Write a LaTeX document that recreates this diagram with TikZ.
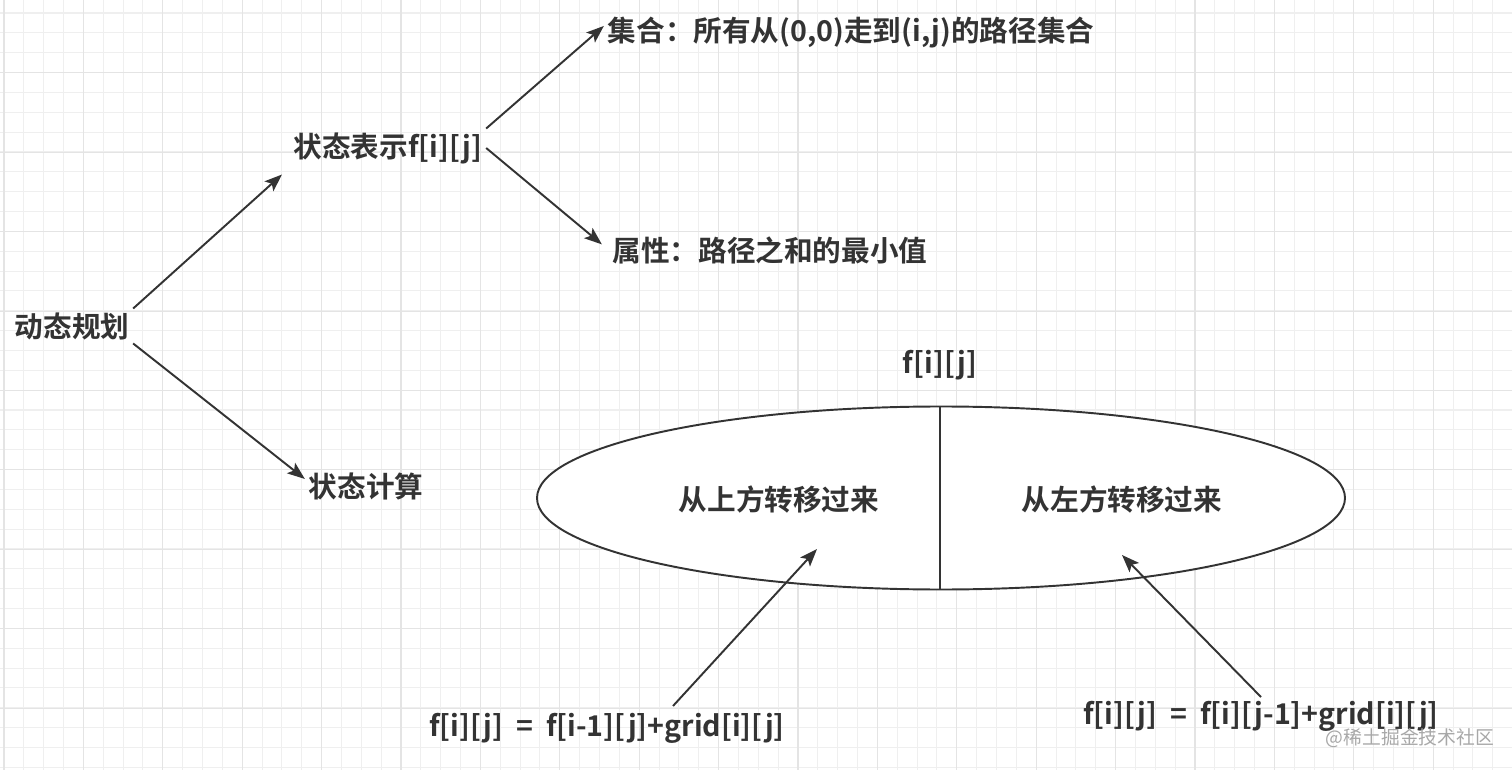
\documentclass[tikz,border=0pt]{standalone}
\usepackage{fontspec}
\setmainfont{Noto Sans CJK SC}[BoldFont={Noto Sans CJK SC Bold}]
\usetikzlibrary{arrows.meta}
\definecolor{ink}{HTML}{333333}
\definecolor{gridminor}{HTML}{EFEFEF}
\definecolor{gridmajor}{HTML}{E4E4E4}
\definecolor{markgray}{HTML}{A8A8A8}

\begin{document}
\begin{tikzpicture}[x=0.02cm, y=-0.02cm,
		>={Stealth[length=10pt, width=7.5pt, inset=2.2pt]},
		txt/.style={text=ink, inner sep=2pt, font=\bfseries\fontsize{16.3}{20}\selectfont},
		arr/.style={->, draw=ink, line width=1.1pt}]
	\useasboundingbox (0,0) rectangle (1512,770);
	\fill[white] (0,0) rectangle (1512,770);
	
	% Hintergrundraster
	\foreach \i in {0,...,76}
	\draw[gridminor, line width=0.6pt] ({4+19.85*\i},0) -- ({4+19.85*\i},770);
	\foreach \i in {0,...,38}
	\draw[gridminor, line width=0.6pt] (0,{13+19.85*\i}) -- (1512,{13+19.85*\i});
	\foreach \i in {0,...,19}
	\draw[gridmajor, line width=0.6pt] ({4+79.4*\i},0) -- ({4+79.4*\i},770);
	\foreach \i in {0,...,9}
	\draw[gridmajor, line width=0.6pt] (0,{-6.5+79.4*\i}) -- (1512,{-6.5+79.4*\i});
	
	% Baum links
	\node[txt] (dp) at (72,326) {动态规划};
	\node[txt] (st) at (388,148) {状态表示f[i][j]};
	\node[txt] (sc) at (366,486) {状态计算};
	\node[txt] (jh) at (851,33) {集合：所有从(0,0)走到(i,j)的路径集合};
	\node[txt] (sx) at (770,250) {属性：路径之和的最小值};
	
	\draw[arr, shorten >=6pt] (dp.north east) -- (st.south west);
	\draw[arr] (dp.south east) -- ([yshift=4pt]sc.west);
	\draw[arr] (st.north east) -- ([yshift=4pt]jh.west);
	\draw[arr, shorten >=5pt] (st.east) -- (sx.west);
	
	% Ellipse fuer f[i][j]
	\node[txt] (fij) at (940,365) {f[i][j]};
	\draw[ink, fill=white, line width=1.1pt] (941,498) ellipse [x radius=404, y radius=91.5];
	\draw[ink, line width=1.1pt] (940,407) -- (940,590);
	\node[txt] (up) at (779,500) {从上方转移过来};
	\node[txt] (lf) at (1122,500) {从左方转移过来};
	
	% Uebergaenge
	\node[txt] (fup) at (607,728) {f[i][j]\ \ =\ \ f[i-1][j]+grid[i][j]};
	\node[txt] (flf) at (1261,716) {f[i][j]\ \ =\ \ f[i][j-1]+grid[i][j]};
	\coordinate (fupOut) at (673,706);
	\coordinate (upIn) at (817,549);
	\coordinate (lfIn) at (1122,555);
	\draw[arr] (fupOut) -- (upIn);
	\draw[arr] (flf.north) -- (lfIn);
	
	\node[text=markgray, font=\fontsize{10.7}{12}\selectfont, inner sep=0pt] (mark) at (1410,738) {@稀土掘金技术社区};
\end{tikzpicture}
\end{document}
